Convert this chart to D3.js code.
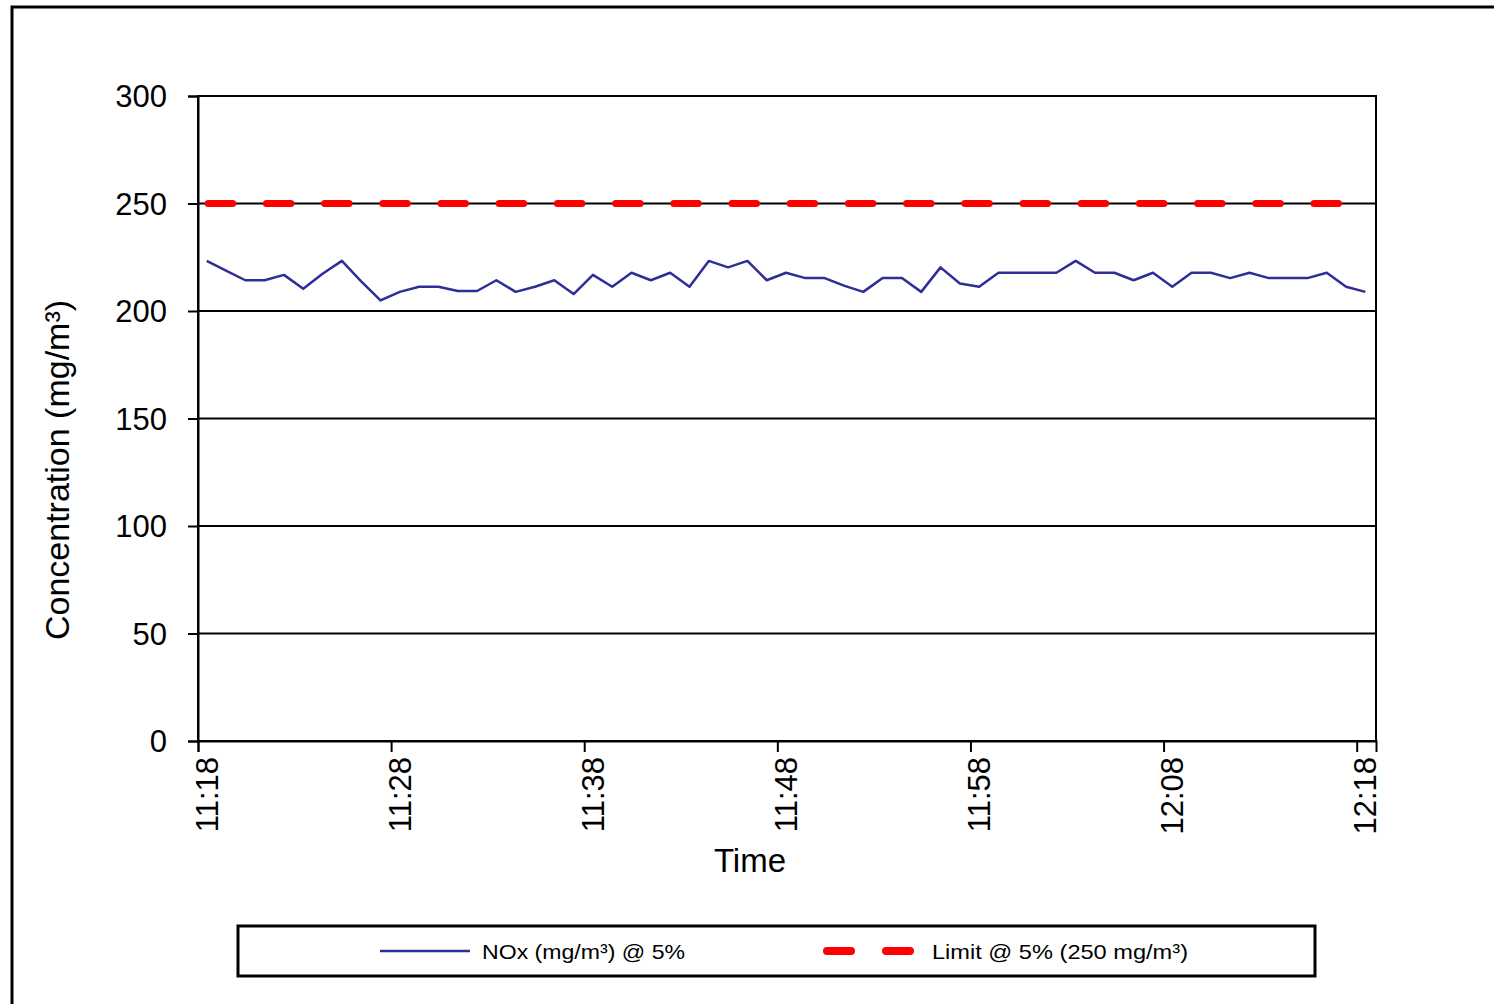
<!DOCTYPE html>
<html><head><meta charset="utf-8">
<script src="https://cdn.jsdelivr.net/npm/d3@7"></script>
<style>body{margin:0;background:#fff}svg{display:block}text{font-family:"Liberation Sans",Arial,sans-serif}</style>
</head><body>
<svg id="c" width="1494" height="1004"></svg>
<script>
// ---- data ----
const times = d3.range(61).map(i => { const m = 18 + i; return (11 + Math.floor(m/60)) + ":" + String(m%60).padStart(2,"0"); });
const noxValues = [223.3,218.8,214.3,214.3,216.8,210.3,217.3,223.3,213.8,204.9,208.9,211.3,211.3,209.3,209.3,214.3,208.9,211.3,214.3,207.9,
  216.8,211.3,217.8,214.3,217.8,211.3,223.3,220.3,223.3,214.3,217.8,215.3,215.3,211.8,208.9,215.3,215.3,208.9,220.3,212.8,
  211.3,217.8,217.8,217.8,217.8,223.3,217.8,217.8,214.3,217.8,211.3,217.8,217.8,215.3,217.8,215.3,215.3,215.3,217.8,211.3,208.9];
const limitValues = times.map(() => 250);
const xTickLabels = ["11:18","11:28","11:38","11:48","11:58","12:08","12:18"];
const yTicks = [0,50,100,150,200,250,300];
const seriesNames = ["NOx (mg/m\u00B3) @ 5%","Limit @ 5% (250 mg/m\u00B3)"];
const xTitle = "Time", yTitle = "Concentration (mg/m\u00B3)";

// ---- layout ----
const svg = d3.select("#c");
const L = 198, R = 1376, T = 96, B = 741;
const toMin = s => { const [h,m] = s.split(":").map(Number); return (h*60+m) - (11*60+18); };
const x = d3.scaleLinear().domain([0, 61]).range([L, R]);
const y = d3.scaleLinear().domain([0, 300]).range([B, T]);
const offset = 0.45;

// outer border
svg.append("rect").attr("x",12).attr("y",7).attr("width",1500).attr("height",1010)
  .attr("fill","none").attr("stroke","#000").attr("stroke-width",3);

// gridlines
svg.append("g").selectAll("line").data(yTicks.filter(v=>v>0)).join("line")
  .attr("x1",L).attr("x2",R).attr("y1",d=>y(d)).attr("y2",d=>y(d))
  .attr("stroke","#000").attr("stroke-width",2);

// plot border
svg.append("rect").attr("x",L).attr("y",T).attr("width",R-L).attr("height",B-T)
  .attr("fill","none").attr("stroke","#000").attr("stroke-width",2);

// y axis
const ya = svg.append("g").attr("transform",`translate(${L},0)`)
  .call(d3.axisLeft(y).tickValues(yTicks).tickSize(10).tickPadding(21));
ya.select(".domain").attr("stroke","#000").attr("stroke-width",2);
ya.selectAll(".tick line").attr("stroke","#000").attr("stroke-width",2);
ya.selectAll(".tick text").attr("font-size",31).attr("fill","#000")
  .attr("font-family","Liberation Sans, Arial, sans-serif").attr("dy","0.34em");

// x axis
const xa = svg.append("g").attr("transform",`translate(0,${B})`)
  .call(d3.axisBottom(x).tickValues(xTickLabels.map(toMin)).tickSize(11).tickFormat((d,i)=>xTickLabels[i]));
xa.select(".domain").attr("stroke","#000").attr("stroke-width",2);
xa.selectAll(".tick line").attr("stroke","#000").attr("stroke-width",2);
xa.selectAll(".tick text").attr("font-size",31).attr("fill","#000")
  .attr("font-family","Liberation Sans, Arial, sans-serif")
  .attr("text-anchor","end").attr("transform","rotate(-90)")
  .attr("x",-16).attr("y",0).attr("dy","0.62em");

// axis titles
svg.append("text").attr("x",750).attr("y",872).attr("text-anchor","middle")
  .attr("font-size",33).attr("fill","#000").text(xTitle);
svg.append("text").attr("transform","translate(69,470) rotate(-90)").attr("text-anchor","middle")
  .attr("font-size",34).attr("fill","#000").text(yTitle);

// series
const line = d3.line().x((d,i)=>x(toMin(times[i])+offset)).y(d=>y(d));
svg.append("path").datum(limitValues).attr("d",line).attr("fill","none")
  .attr("stroke","#ff0000").attr("stroke-width",7).attr("stroke-linecap","round")
  .attr("stroke-dasharray","24.5,33.7").attr("stroke-dashoffset",-1.5);
svg.append("path").datum(noxValues).attr("d",line).attr("fill","none")
  .attr("stroke","#2e2e96").attr("stroke-width",2.5).attr("stroke-linejoin","round");

// legend
svg.append("rect").attr("x",238).attr("y",926).attr("width",1077).attr("height",50)
  .attr("fill","#fff").attr("stroke","#000").attr("stroke-width",3);
svg.append("line").attr("x1",380).attr("x2",470).attr("y1",951).attr("y2",951)
  .attr("stroke","#2e2e96").attr("stroke-width",2.5);
svg.append("text").attr("x",482).attr("y",959).attr("font-size",21).attr("fill","#000")
  .attr("textLength",203).attr("lengthAdjust","spacingAndGlyphs").text(seriesNames[0]);
svg.append("line").attr("x1",827).attr("x2",910).attr("y1",951).attr("y2",951)
  .attr("stroke","#ff0000").attr("stroke-width",8).attr("stroke-linecap","round")
  .attr("stroke-dasharray","24,35");
svg.append("text").attr("x",932).attr("y",959).attr("font-size",21).attr("fill","#000")
  .attr("textLength",256).attr("lengthAdjust","spacingAndGlyphs").text(seriesNames[1]);
</script>
</body></html>
